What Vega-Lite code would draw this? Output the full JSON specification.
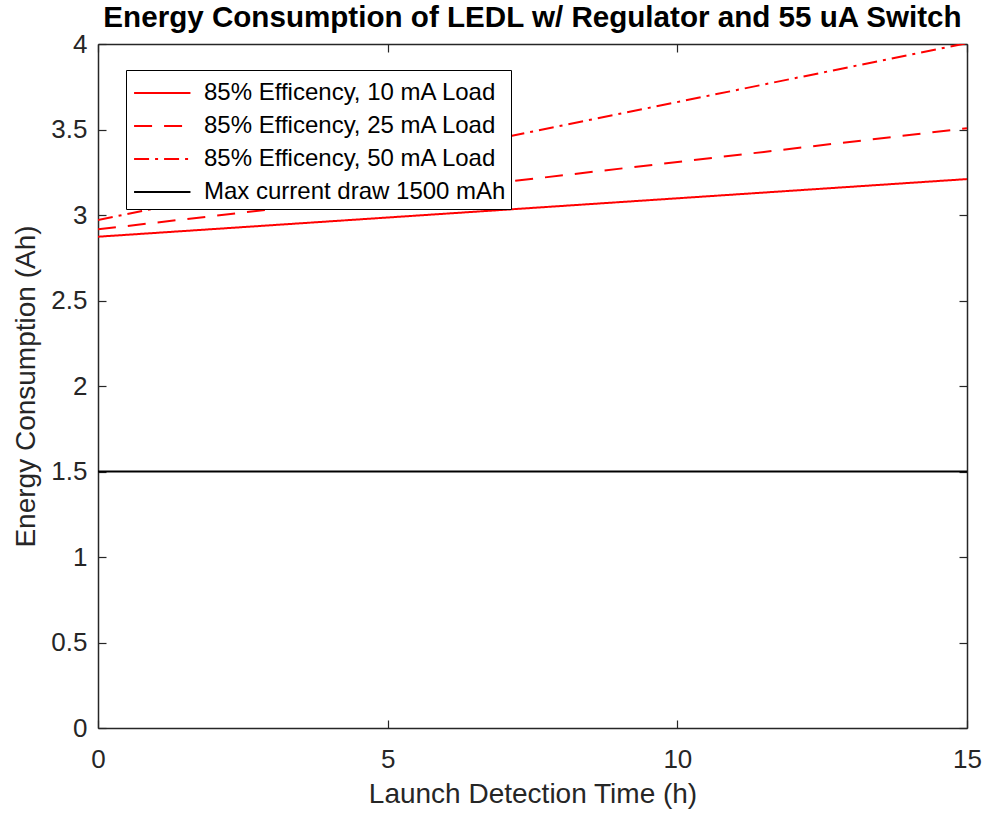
{
  "$schema": "https://vega.github.io/schema/vega-lite/v6.json",
  "autosize": "none",
  "width": 869,
  "height": 684,
  "padding": {"left": 98, "top": 44, "right": 19, "bottom": 87},
  "background": "white",
  "title": {
    "text": "Energy Consumption of LEDL w/ Regulator and 55 uA Switch",
    "font": "Liberation Sans",
    "fontSize": 29.6,
    "fontWeight": "bold",
    "color": "black",
    "anchor": "middle",
    "offset": -3
  },
  "config": {
    "view": {"stroke": null},
    "axis": {
      "domainColor": "#262626",
      "domainWidth": 1.5,
      "tickColor": "#262626",
      "tickWidth": 1.2,
      "labelFont": "Liberation Sans",
      "labelFontSize": 26,
      "labelColor": "#262626",
      "titleFont": "Liberation Sans",
      "titleFontSize": 28,
      "titleFontWeight": "normal",
      "titleColor": "#262626",
      "grid": false
    }
  },
  "data": {
    "values": [
      {"t": 0, "e": 2.873, "series": "85% Efficency, 10 mA Load"},
      {"t": 15, "e": 3.21, "series": "85% Efficency, 10 mA Load"},
      {"t": 0, "e": 2.916, "series": "85% Efficency, 25 mA Load"},
      {"t": 15, "e": 3.507, "series": "85% Efficency, 25 mA Load"},
      {"t": 0, "e": 2.971, "series": "85% Efficency, 50 mA Load"},
      {"t": 15, "e": 4.005, "series": "85% Efficency, 50 mA Load"},
      {"t": 0, "e": 1.5, "series": "Max current draw 1500 mAh"},
      {"t": 15, "e": 1.5, "series": "Max current draw 1500 mAh"}
    ]
  },
  "layer": [
    {
      "mark": {"type": "line", "strokeWidth": 2, "clip": true},
      "encoding": {
        "x": {
          "field": "t", "type": "quantitative",
          "scale": {"domain": [0, 15], "nice": false, "zero": false},
          "axis": {"orient": "bottom", "title": "Launch Detection Time (h)", "values": [0, 5, 10, 15], "format": "~g", "tickSize": -8, "labelPadding": 26, "titlePadding": 8, "labelFlush": false}
        },
        "y": {
          "field": "e", "type": "quantitative",
          "scale": {"domain": [0, 4], "nice": false},
          "axis": {"orient": "left", "title": "Energy Consumption (Ah)", "values": [0, 0.5, 1, 1.5, 2, 2.5, 3, 3.5, 4], "format": "~g", "tickSize": -8, "labelPadding": 19, "titlePadding": 10, "labelFlush": false}
        },
        "color": {
          "field": "series", "type": "nominal",
          "scale": {
            "domain": ["85% Efficency, 10 mA Load", "85% Efficency, 25 mA Load", "85% Efficency, 50 mA Load", "Max current draw 1500 mAh"],
            "range": ["#ff0000", "#ff0000", "#ff0000", "#000000"]
          },
          "legend": {
            "title": null,
            "orient": "none",
            "legendX": 28,
            "legendY": 26,
            "strokeColor": "black",
            "fillColor": "white",
            "padding": 5,
            "symbolType": "M-0.9,0H2.5",
            "symbolSize": 1100,
            "symbolStrokeWidth": 2,
            "labelFont": "Liberation Sans",
            "labelFontSize": 24,
            "labelColor": "black",
            "rowPadding": 3,
            "labelOffset": 37,
            "labelLimit": 400
          }
        },
        "strokeDash": {
          "field": "series", "type": "nominal",
          "scale": {
            "domain": ["85% Efficency, 10 mA Load", "85% Efficency, 25 mA Load", "85% Efficency, 50 mA Load", "Max current draw 1500 mAh"],
            "range": [[1, 0], [18, 12], [15, 6, 3, 6], [1, 0]]
          }
        }
      }
    },
    {
      "mark": {"type": "line", "opacity": 0},
      "encoding": {
        "x": {
          "field": "t", "type": "quantitative",
          "axis": {"orient": "top", "title": null, "labels": false, "values": [0, 5, 10, 15], "tickSize": -8}
        },
        "y": {
          "field": "e", "type": "quantitative",
          "axis": {"orient": "right", "title": null, "labels": false, "values": [0, 0.5, 1, 1.5, 2, 2.5, 3, 3.5, 4], "tickSize": -8}
        }
      }
    }
  ],
  "resolve": {"axis": {"x": "independent", "y": "independent"}}
}
